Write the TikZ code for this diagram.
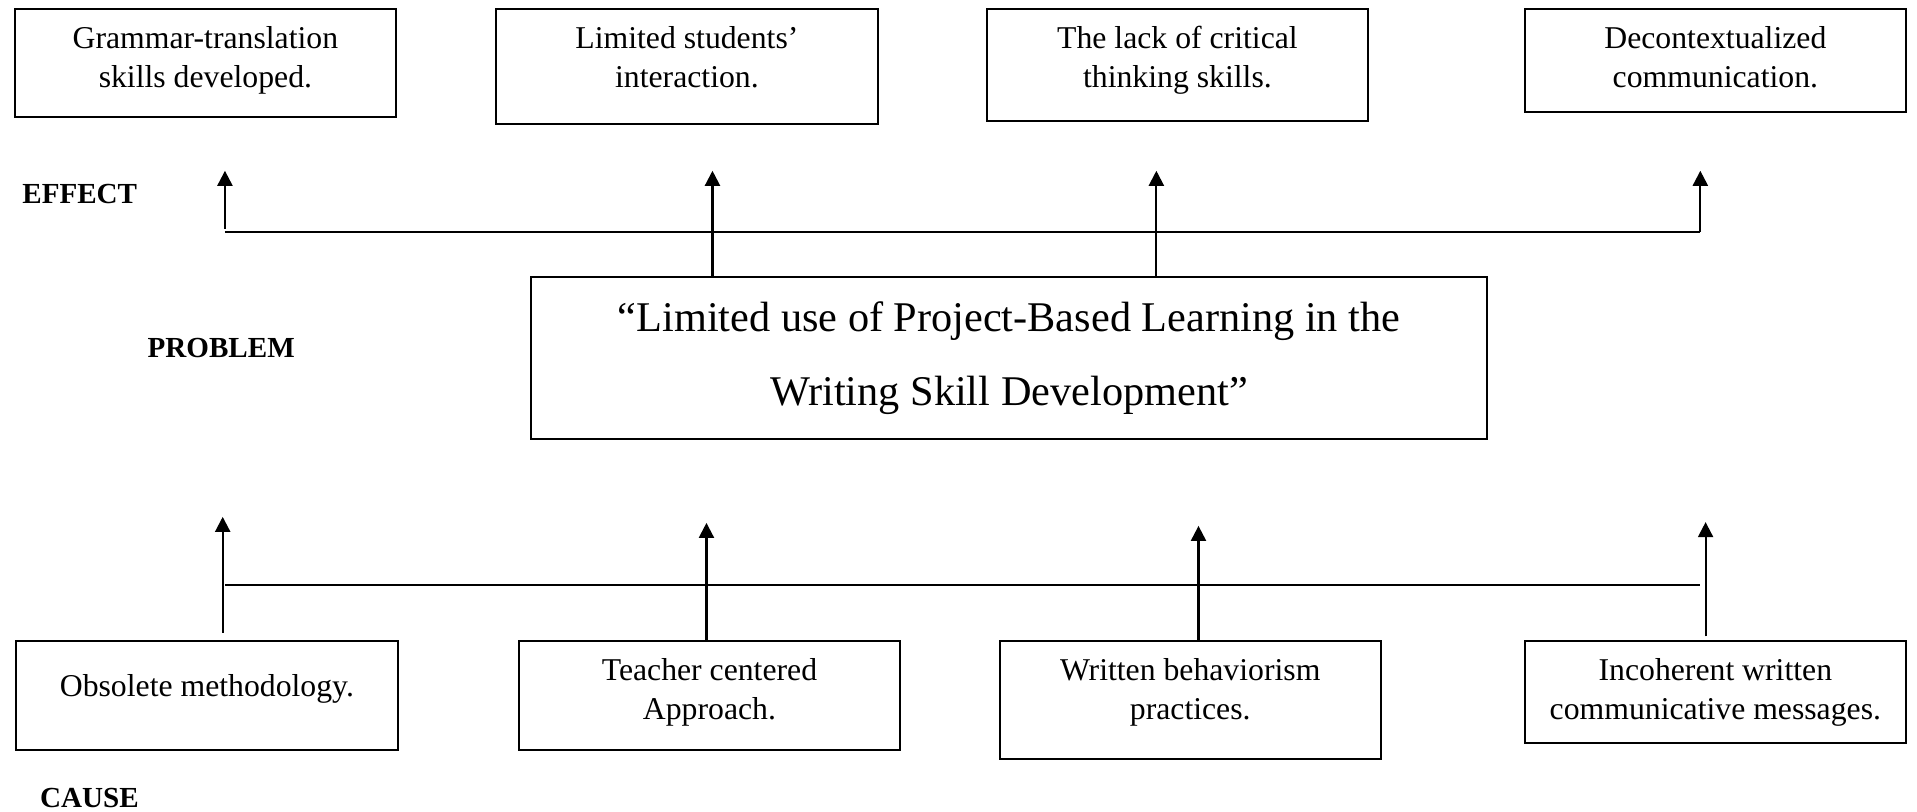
\documentclass[tikz,border=0pt]{standalone}
\usepackage{fontspec}
\setmainfont{Liberation Serif}
\usetikzlibrary{arrows.meta}

\begin{document}
\begin{tikzpicture}[
    box/.style={draw, line width=0.75pt, minimum width=5.07cm, anchor=north, align=center,
                inner ysep=6.3pt, text height=23.3pt, font=\fontsize{12}{14.8}\selectfont},
    upline/.style={line width=0.8pt, -{Triangle[length=2mm, width=2mm]}},
    tag/.style={font=\fontsize{11}{13}\selectfont\bfseries}
]

    \useasboundingbox (0, 0) rectangle (25.48, 10.79);

    % Effects (top row)
    \node[box, text depth=4.8pt] (e1) at (2.73, 10.68) {Grammar-translation\\skills developed.};
    \node[box, text depth=7.6pt] (e2) at (9.13, 10.68) {Limited students’\\interaction.};
    \node[box, text depth=6.2pt] (e3) at (15.65, 10.68) {The lack of critical\\thinking skills.};
    \node[box, text depth=3.1pt] (e4) at (22.80, 10.68) {Decontextualized\\communication.};

    % Problem
    \node[draw, line width=0.75pt, minimum width=12.71cm, minimum height=2.15cm, align=center,
          font=\fontsize{16}{28}\selectfont] (prob) at (13.41, 6.03)
          {“Limited use of Project-Based Learning in the\\Writing Skill Development”};

    % Causes (bottom row)
    \node[box, inner ysep=12.3pt, text height=8.5pt, text depth=8.2pt] (c1) at (2.75, 2.28) {Obsolete methodology.};
    \node[box, text depth=5.4pt] (c2) at (9.43, 2.28) {Teacher centered\\Approach.};
    \node[box, text depth=8.5pt] (c3) at (15.82, 2.28) {Written behaviorism\\practices.};
    \node[box, text depth=2.5pt] (c4) at (22.80, 2.28) {Incoherent written\\communicative messages.};

    % Side labels
    \node[tag] (effect) at (1.06, 8.21) {EFFECT};
    \node[tag] (problem) at (2.94, 6.16) {PROBLEM};
    \node[tag] (cause) at (1.19, 0.18) {CAUSE};

    % Effect branch
    \coordinate (eL) at (2.99, 7.70);
    \coordinate (eR) at (22.60, 7.70);
    \foreach \n/\x in {1/2.99, 2/9.47, 3/15.37, 4/22.60} {
        \coordinate (et\n) at (\x, 8.52);
    }
    \draw[line width=0.75pt] (eL) -- (eR);
    \draw[upline, shorten <=0.5mm] (eL) -- (et1);
    \draw[upline] (prob.north -| et2) -- (et2);
    \draw[upline] (prob.north -| et3) -- (et3);
    \draw[upline] (eR) -- (et4);

    % Cause branch
    \coordinate (cL) at (2.99, 3.02);
    \coordinate (cR) at (22.60, 3.02);
    \foreach \n/\x/\y in {1/2.96/3.92, 2/9.39/3.84, 3/15.93/3.80, 4/22.67/3.85} {
        \coordinate (ct\n) at (\x, \y);
    }
    \draw[line width=0.75pt] (cL) -- (cR);
    \draw[upline, shorten <=1mm] (c1.north -| ct1) -- (ct1);
    \draw[upline] (c2.north -| ct2) -- (ct2);
    \draw[upline] (c3.north -| ct3) -- (ct3);
    \draw[upline, shorten <=0.5mm] (c4.north -| ct4) -- (ct4);

\end{tikzpicture}
\end{document}
